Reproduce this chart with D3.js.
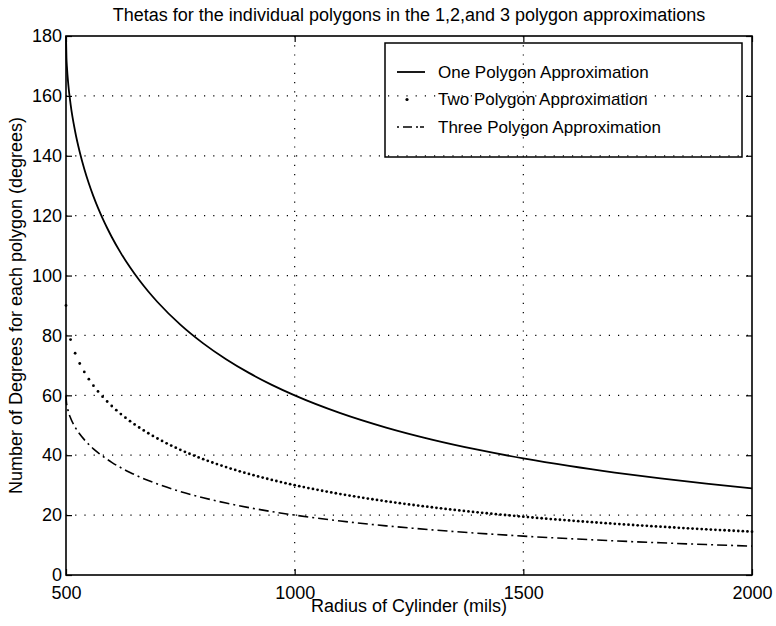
<!DOCTYPE html>
<html>
<head>
<meta charset="utf-8">
<script src="https://d3js.org/d3.v7.min.js"></script>
<style>
  body { margin: 0; background: #fff; }
  text { font-family: "Liberation Sans", Arial, Helvetica, sans-serif; fill: #000; }
</style>
</head>
<body>
<div id="chart"></div>
<script>
// radius grid for the dotted (two polygon) series, every 10 mils
var twoRadius = [
  500, 510, 520, 530, 540, 550, 560, 570, 580, 590,
  600, 610, 620, 630, 640, 650, 660, 670, 680, 690,
  700, 710, 720, 730, 740, 750, 760, 770, 780, 790,
  800, 810, 820, 830, 840, 850, 860, 870, 880, 890,
  900, 910, 920, 930, 940, 950, 960, 970, 980, 990,
  1000, 1010, 1020, 1030, 1040, 1050, 1060, 1070, 1080, 1090,
  1100, 1110, 1120, 1130, 1140, 1150, 1160, 1170, 1180, 1190,
  1200, 1210, 1220, 1230, 1240, 1250, 1260, 1270, 1280, 1290,
  1300, 1310, 1320, 1330, 1340, 1350, 1360, 1370, 1380, 1390,
  1400, 1410, 1420, 1430, 1440, 1450, 1460, 1470, 1480, 1490,
  1500, 1510, 1520, 1530, 1540, 1550, 1560, 1570, 1580, 1590,
  1600, 1610, 1620, 1630, 1640, 1650, 1660, 1670, 1680, 1690,
  1700, 1710, 1720, 1730, 1740, 1750, 1760, 1770, 1780, 1790,
  1800, 1810, 1820, 1830, 1840, 1850, 1860, 1870, 1880, 1890,
  1900, 1910, 1920, 1930, 1940, 1950, 1960, 1970, 1980, 1990,
  2000
];

// degrees per polygon, two polygon approximation (dots)
var twoPoly = [
  90.00, 78.63, 74.06, 70.63, 67.81, 65.38, 63.23, 61.30, 59.55, 57.94,
  56.44, 55.05, 53.75, 52.53, 51.38, 50.28, 49.25, 48.27, 47.33, 46.44,
  45.58, 44.77, 43.98, 43.23, 42.51, 41.81, 41.14, 40.49, 39.87, 39.27,
  38.68, 38.12, 37.57, 37.04, 36.53, 36.03, 35.55, 35.08, 34.62, 34.18,
  33.75, 33.33, 32.92, 32.52, 32.14, 31.76, 31.39, 31.03, 30.68, 30.33,
  30.00, 29.67, 29.35, 29.04, 28.74, 28.44, 28.14, 27.86, 27.58, 27.30,
  27.04, 26.77, 26.51, 26.26, 26.01, 25.77, 25.53, 25.30, 25.07, 24.85,
  24.62, 24.41, 24.19, 23.99, 23.78, 23.58, 23.38, 23.19, 22.99, 22.81,
  22.62, 22.44, 22.26, 22.08, 21.91, 21.74, 21.57, 21.41, 21.24, 21.08,
  20.92, 20.77, 20.62, 20.47, 20.32, 20.17, 20.03, 19.89, 19.75, 19.61,
  19.47, 19.34, 19.20, 19.07, 18.95, 18.82, 18.69, 18.57, 18.45, 18.33,
  18.21, 18.09, 17.98, 17.86, 17.75, 17.64, 17.53, 17.42, 17.31, 17.21,
  17.10, 17.00, 16.90, 16.80, 16.70, 16.60, 16.50, 16.41, 16.31, 16.22,
  16.13, 16.04, 15.95, 15.86, 15.77, 15.68, 15.59, 15.51, 15.42, 15.34,
  15.26, 15.18, 15.09, 15.01, 14.94, 14.86, 14.78, 14.70, 14.63, 14.55,
  14.48
];

// radius samples for the two drawn lines
var lineRadius = [500, 501, 502, 505, 510, 520, 530, 540, 550, 560, 570, 580, 590,
  600, 620, 640, 660, 680, 700, 750, 800, 850, 900, 950, 1000,
  1100, 1200, 1300, 1400, 1500, 1600, 1700, 1800, 1900, 2000];

// one polygon approximation (solid)
var onePoly = [180, 172.76, 169.77, 163.87, 157.26, 148.12, 141.26, 135.62, 130.76, 126.46, 122.60, 119.10, 115.88,
  112.89, 107.50, 102.75, 98.50, 94.66, 91.17, 83.62, 77.36, 72.06, 67.50, 63.51, 60.00,
  54.07, 49.25, 45.24, 41.85, 38.94, 36.42, 34.21, 32.26, 30.52, 28.96];

// three polygon approximation (dash-dot)
var threePoly = [60, 57.59, 56.59, 54.62, 52.42, 49.37, 47.09, 45.21, 43.59, 42.15, 40.87, 39.70, 38.63,
  37.63, 35.83, 34.25, 32.83, 31.55, 30.39, 27.87, 25.79, 24.02, 22.50, 21.17, 20.00,
  18.02, 16.42, 15.08, 13.95, 12.98, 12.14, 11.40, 10.75, 10.17, 9.65];

var xTicks = [500, 1000, 1500, 2000];
var yTicks = [0, 20, 40, 60, 80, 100, 120, 140, 160, 180];
var legendLabels = ["One Polygon Approximation", "Two Polygon Approximation", "Three Polygon Approximation"];

// set the dimensions and margins of the graph
var margin = {top: 36, right: 24, bottom: 51, left: 66},
    width = 776 - margin.left - margin.right,
    height = 626 - margin.top - margin.bottom;

var svg = d3.select("#chart")
  .append("svg")
    .attr("width", 776)
    .attr("height", 626)
  .append("g")
    .attr("transform", "translate(" + margin.left + "," + margin.top + ")");

var x = d3.scaleLinear().domain([500, 2000]).range([0, width]);
var y = d3.scaleLinear().domain([0, 180]).range([height, 0]);

// dotted grid
svg.append("g")
  .selectAll("line")
  .data(xTicks.slice(1, -1))
  .enter().append("line")
    .attr("x1", function(d) { return x(d); })
    .attr("x2", function(d) { return x(d); })
    .attr("y1", 0)
    .attr("y2", height)
    .attr("stroke", "#000")
    .attr("stroke-width", 1.2)
    .attr("stroke-dasharray", "1.2,8");
svg.append("g")
  .selectAll("line")
  .data(yTicks.slice(1, -1))
  .enter().append("line")
    .attr("x1", 0)
    .attr("x2", width)
    .attr("y1", function(d) { return y(d); })
    .attr("y2", function(d) { return y(d); })
    .attr("stroke", "#000")
    .attr("stroke-width", 1.2)
    .attr("stroke-dasharray", "1.2,8");

// axes, ticks point inward like matlab
var fontSize = "18px";
svg.append("g")
  .attr("transform", "translate(0," + height + ")")
  .call(d3.axisBottom(x).tickValues(xTicks).tickFormat(d3.format("d"))
    .tickSizeInner(-6).tickSizeOuter(0).tickPadding(11));
svg.append("g")
  .call(d3.axisLeft(y).tickValues(yTicks).tickFormat(d3.format("d"))
    .tickSizeInner(-6).tickSizeOuter(0).tickPadding(4));
svg.append("g")
  .call(d3.axisTop(x).tickValues(xTicks).tickSizeInner(-6).tickSizeOuter(0).tickFormat(""));
svg.append("g")
  .attr("transform", "translate(" + width + ",0)")
  .call(d3.axisRight(y).tickValues(yTicks).tickSizeInner(-6).tickSizeOuter(0).tickFormat(""));
svg.selectAll(".domain").remove();
svg.selectAll(".tick line").attr("stroke", "#000").attr("stroke-width", 1.2);
svg.selectAll(".tick text").style("font-size", fontSize).style("font-family", "Liberation Sans, Arial, sans-serif");

// frame
svg.append("rect")
  .attr("width", width)
  .attr("height", height)
  .attr("fill", "none")
  .attr("stroke", "#000")
  .attr("stroke-width", 1.6);

// build point lists from the arrays
var oneData = lineRadius.map(function(r, i) { return {r: r, v: onePoly[i]}; });
var threeData = lineRadius.map(function(r, i) { return {r: r, v: threePoly[i]}; });
var twoData = twoRadius.map(function(r, i) { return {r: r, v: twoPoly[i]}; });

var line = d3.line()
  .curve(d3.curveMonotoneX)
  .x(function(d) { return x(d.r); })
  .y(function(d) { return y(d.v); });

svg.append("path")
  .datum(oneData)
  .attr("d", line)
  .attr("fill", "none")
  .attr("stroke", "#000")
  .attr("stroke-width", 1.8);

svg.append("path")
  .datum(threeData)
  .attr("d", line)
  .attr("fill", "none")
  .attr("stroke", "#000")
  .attr("stroke-width", 1.6)
  .attr("stroke-dasharray", "10,4,2,4");

svg.append("g")
  .selectAll("circle")
  .data(twoData)
  .enter().append("circle")
    .attr("cx", function(d) { return x(d.r); })
    .attr("cy", function(d) { return y(d.v); })
    .attr("r", 1.4)
    .attr("fill", "#000");

// legend
var legend = svg.append("g")
  .attr("transform", "translate(" + (385 - margin.left) + "," + (43 - margin.top) + ")");
legend.append("rect")
  .attr("width", 357)
  .attr("height", 114)
  .attr("fill", "none")
  .attr("stroke", "#000")
  .attr("stroke-width", 1.5);

var rows = legend.selectAll(".row")
  .data(legendLabels)
  .enter().append("g")
    .attr("class", "row")
    .attr("transform", function(d, i) { return "translate(0," + (29 + i * 27.5) + ")"; });

rows.append("text")
  .attr("x", 53)
  .attr("dy", "0.35em")
  .style("font-size", "17px")
  .text(function(d) { return d; });

rows.filter(function(d, i) { return i == 0; })
  .append("line")
    .attr("x1", 12).attr("x2", 40)
    .attr("stroke", "#000").attr("stroke-width", 1.8);
rows.filter(function(d, i) { return i == 1; })
  .append("circle")
    .attr("cx", 22).attr("r", 1.6).attr("fill", "#000");
rows.filter(function(d, i) { return i == 2; })
  .append("line")
    .attr("x1", 12).attr("x2", 40)
    .attr("stroke", "#000").attr("stroke-width", 1.6)
    .attr("stroke-dasharray", "2,4,9,4,2");

// title and axis labels
svg.append("text")
  .attr("x", width / 2)
  .attr("y", 21 - margin.top)
  .style("text-anchor", "middle")
  .style("font-size", fontSize)
  .text("Thetas for the individual polygons in the 1,2,and 3 polygon approximations");

svg.append("text")
  .attr("x", width / 2)
  .attr("y", 612 - margin.top)
  .style("text-anchor", "middle")
  .style("font-size", fontSize)
  .text("Radius of Cylinder (mils)");

svg.append("text")
  .attr("transform", "rotate(-90)")
  .attr("x", -height / 2)
  .attr("y", 22 - margin.left)
  .style("text-anchor", "middle")
  .style("font-size", fontSize)
  .text("Number of Degrees for each polygon (degrees)");
</script>
</body>
</html>
